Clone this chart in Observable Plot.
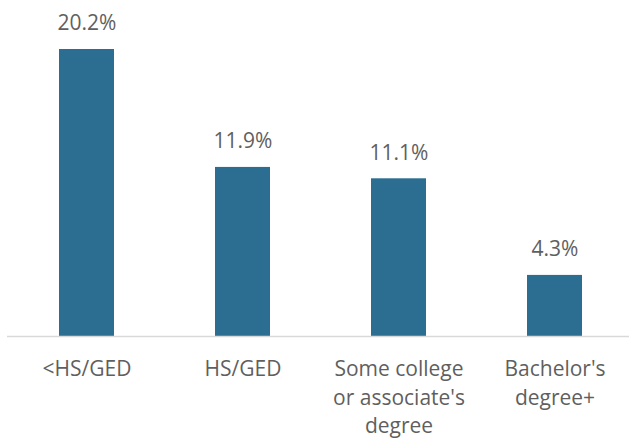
<!DOCTYPE html>
<html>
<head>
<meta charset="utf-8">
<script src="https://cdn.jsdelivr.net/npm/d3@7"></script>
<script src="https://cdn.jsdelivr.net/npm/@observablehq/plot@0.6"></script>
<style>
  html, body { margin: 0; padding: 0; background: #fff; overflow: hidden; }
  #chart svg { display: block; }
</style>
</head>
<body>
<div id="chart"></div>
<script>
const categories = ["<HS/GED", "HS/GED", "Some college\nor associate's\ndegree", "Bachelor's\ndegree+"];
const values = [20.2, 11.9, 11.1, 4.3];
const valueLabels = ["20.2%", "11.9%", "11.1%", "4.3%"];

const data = categories.map((c, i) => ({cat: c, value: values[i], label: valueLabels[i]}));

const chart = Plot.plot({
  width: 629,
  height: 438,
  marginLeft: 7,
  marginRight: 0,
  marginTop: 0,
  marginBottom: 0,
  style: {fontFamily: "'Open Sans', sans-serif", background: "#fff"},
  x: {domain: categories, range: [8, 634], paddingInner: 0.647, paddingOuter: 0.3235, axis: null},
  y: {domain: [0, 20.2], range: [336, 49], axis: null},
  marks: [
    Plot.barY(data, {x: "cat", y: "value", fill: "#2C6E91"}),
    Plot.ruleY([0], {stroke: "#d9d9d9", strokeWidth: 1.5}),
    Plot.text(data, {x: "cat", y: "value", text: "label", lineAnchor: "middle", dy: -26, fontSize: 21, fill: "#5f5f5f"}),
    Plot.text(data, {x: "cat", y: () => 0, text: "cat", lineAnchor: "top", dy: 19, lineHeight: 1.37, fontSize: 21, fill: "#5f5f5f"})
  ]
});
document.getElementById("chart").appendChild(chart);
</script>
</body>
</html>
